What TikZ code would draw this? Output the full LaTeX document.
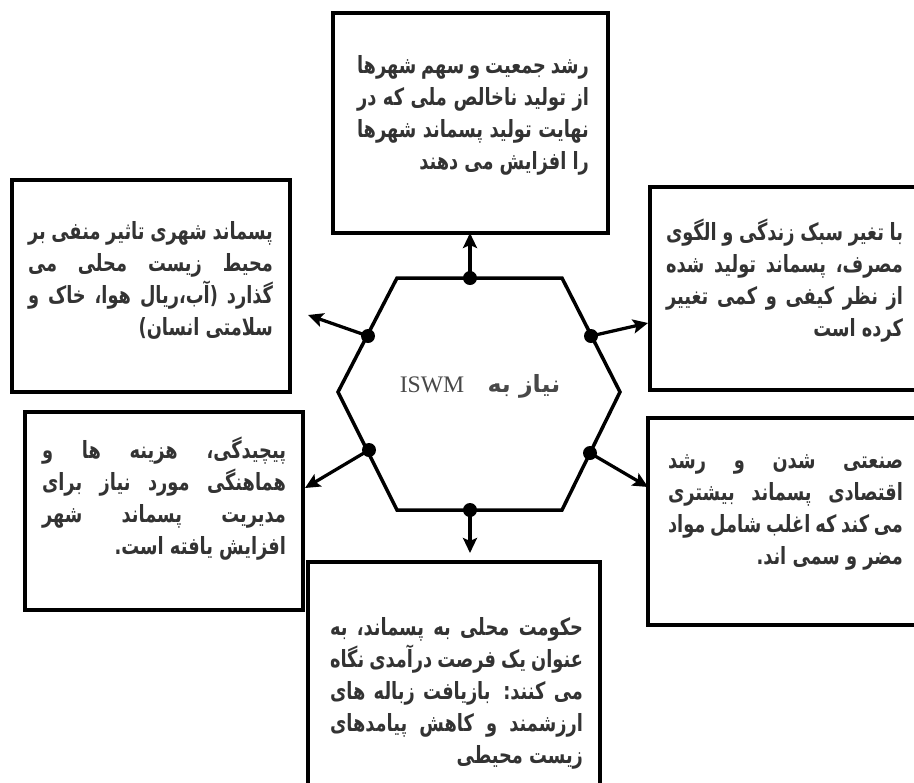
\documentclass[tikz,border=0pt]{standalone}
\usepackage{fontspec}
\usepackage{xcolor}
\usetikzlibrary{arrows.meta}
\TeXXeTstate=1
\newfontfamily\persianfont[Script=Arabic, FakeStretch=0.75]{DejaVu Sans}
\newfontfamily\hexfont[Script=Arabic]{DejaVu Sans}
\newfontfamily\latinserif{Liberation Serif}
\definecolor{ink}{HTML}{333333}
\definecolor{hexink}{HTML}{484848}
\newlength\notew
\newcommand{\fullline}[1]{\hbox to\notew{\beginR#1\endR}}
\newcommand{\lastline}[1]{\hbox to\notew{\hfil\beginR#1\endR}}
\newcommand{\notetext}[2]{\setlength\notew{#1}\vbox{\baselineskip=18.2pt #2}}

\begin{document}
\begin{tikzpicture}[x=0.02cm, y=-0.02cm,
  frame/.style={draw=black, line width=0.09cm, rectangle},
  note/.style={text=ink, inner sep=0pt, font=\persianfont\bfseries\fontsize{13.5}{18.2}\selectfont},
  link/.style={-{Stealth[length=0.3cm, width=0.28cm, inset=0.06cm]}, line width=0.065cm},
  knob/.style={fill=black},
]
  \useasboundingbox (0,0) rectangle (914,782);
  \clip (0,0) rectangle (914,782);

  % boxes
  \node[frame, minimum width=5.5cm,  minimum height=4.4cm]  (growth)   at (470.5,123) {};
  \node[frame, minimum width=5.5cm,  minimum height=4.06cm] (lifestyle) at (787.5,288.5) {};
  \node[frame, minimum width=5.56cm, minimum height=4.24cm] (impact)   at (151,286) {};
  \node[frame, minimum width=5.56cm, minimum height=3.96cm] (cost)     at (164,511) {};
  \node[frame, minimum width=5.54cm, minimum height=4.14cm] (industry) at (786.5,521.5) {};
  \node[frame, minimum width=5.84cm, minimum height=4.76cm] (revenue)  at (454,681) {};

  % texts
  \node[note] (growtht) at (473,115.5) {\notetext{4.64cm}{%
    \fullline{رشد جمعیت و سهم شهرها}
    \fullline{از تولید ناخالص ملی که در}
    \fullline{نهایت تولید پسماند شهرها}
    \lastline{را افزایش می دهند}}};
  \node[note] (lifestylet) at (784.5,281) {\notetext{4.74cm}{%
    \fullline{با تغیر سبک زندگی و الگوی}
    \fullline{مصرف، پسماند تولید شده}
    \fullline{از نظر کیفی و کمی تغییر}
    \lastline{کرده است}}};
  \node[note] (impactt) at (150.5,280) {\notetext{4.9cm}{%
    \fullline{پسماند شهری تاثیر منفی بر}
    \fullline{محیط زیست محلی می}
    \fullline{گذارد (آب،ریال هوا، خاک و}
    \lastline{سلامتی انسان)}}};
  \node[note] (costt) at (164,498.5) {\notetext{4.88cm}{%
    \fullline{پیچیدگی، هزینه ها و}
    \fullline{هماهنگی مورد نیاز برای}
    \fullline{مدیریت پسماند شهر}
    \lastline{افزایش یافته است.}}};
  \node[note] (industryt) at (785.5,512.5) {\notetext{4.7cm}{%
    \fullline{صنعتی شدن و رشد}
    \fullline{اقتصادی پسماند بیشتری}
    \fullline{می کند که اغلب شامل مواد}
    \lastline{مضر و سمی اند.}}};
  \node[note] (revenuet) at (456.5,693.5) {\notetext{5.06cm}{%
    \fullline{حکومت محلی به پسماند، به}
    \fullline{عنوان یک فرصت درآمدی نگاه}
    \fullline{می کنند: بازیافت زباله های}
    \fullline{ارزشمند و کاهش پیامدهای}
    \lastline{زیست محیطی}}};

  % hexagon
  \draw[line width=0.07cm, line join=miter]
    (397,278) -- (562,278) -- (620,392) -- (562,510) -- (397,510) -- (338,392) -- cycle;
  \node[text=hexink, inner sep=0pt, font=\fontsize{13.5}{15}\selectfont] (need) at (480,386)
    {\beginR{\hexfont\bfseries نیاز به}\ \ \ \beginL{\latinserif ISWM}\endL\endR};

  % connectors
  \foreach \n/\s/\e in {a/{470,278}/{470,233}, b/{591,336}/{648,323}, c/{368,336}/{308,315},
                        d/{369,450}/{305,488}, e/{590,453}/{648,487}, f/{470,510}/{470,553}} {
    \coordinate (dot\n) at (\s);
    \coordinate (tip\n) at (\e);
    \draw[link] (dot\n) -- (tip\n);
    \fill[knob] (dot\n) circle (0.14cm);
  }
\end{tikzpicture}
\end{document}
